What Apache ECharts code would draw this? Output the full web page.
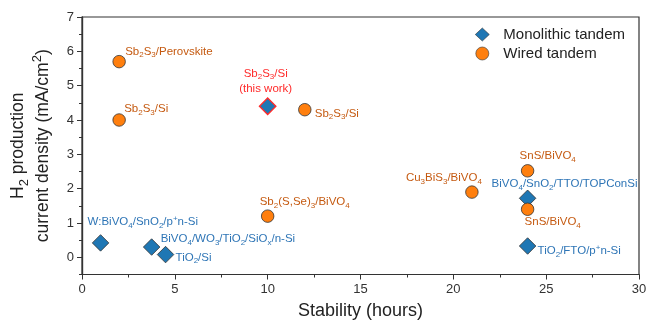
<!DOCTYPE html>
<html>
<head>
<meta charset="utf-8">
<script src="https://cdn.jsdelivr.net/npm/echarts@6/dist/echarts.min.js"></script>
<style>html,body{margin:0;padding:0;background:#fff}#c{width:648px;height:322px}</style>
</head>
<body>
<div id="c"></div>
<script>
// ---- data ----
var monoX = [1, 3.75, 4.5, 10, 24, 24];
var monoY = [0.42, 0.3, 0.08, 4.4, 1.72, 0.33];
var monoNames = ['W:BiVO_{4}/SnO_{2}/p^{+}n-Si', 'BiVO_{4}/WO_{3}/TiO_{2}/SiO_{x}/n-Si', 'TiO_{2}/Si', 'Sb_{2}S_{3}/Si\n(this work)', 'BiVO_{4}/SnO_{2}/TTO/TOPConSi', 'TiO_{2}/FTO/p^{+}n-Si'];
var wiredX = [2, 2, 12, 10, 21, 24, 24];
var wiredY = [5.7, 4.0, 4.3, 1.2, 1.9, 2.52, 1.4];
var wiredNames = ['Sb_{2}S_{3}/Perovskite', 'Sb_{2}S_{3}/Si', 'Sb_{2}S_{3}/Si', 'Sb_{2}(S,Se)_{3}/BiVO_{4}', 'Cu_{3}BiS_{3}/BiVO_{4}', 'SnS/BiVO_{4}', 'SnS/BiVO_{4}'];
var seriesNames = ['Monolithic tandem', 'Wired tandem'];
var xTicks = [0, 5, 10, 15, 20, 25, 30];
var yTicks = [0, 1, 2, 3, 4, 5, 6, 7];
var highlightIndex = 3; // "this work" point in monolithic series

// ---- label placement (layout only) ----
var monoPlace = [['left', -13, -21], ['left', 9, -8], ['left', 10, 3], ['center', -2, -25], ['left', -36, -14], ['left', 10, 5]];
var wiredPlace = [['left', 6, -10], ['left', 5, -11], ['left', 10, 4], ['left', -8, -14], ['right', 10, -14], ['left', -8, -15], ['left', -3, 13]];

var FONT = '"Liberation Sans", Arial, sans-serif';
function toRich(s) {
  return s.split('\n').map(function (line) {
    var out = '', last = 0, re = /(_|\^)\{([^}]*)\}/g, m;
    while ((m = re.exec(line)) !== null) {
      if (m.index > last) out += '{n|' + line.slice(last, m.index) + '}';
      out += '{' + (m[1] === '_' ? 'sub' : 'sup') + '|' + m[2] + '}';
      last = re.lastIndex;
    }
    if (last < line.length) out += '{n|' + line.slice(last) + '}';
    return out;
  }).join('\n');
}
function richStyles(fs, lh) {
  return {
    n: { fontSize: fs, lineHeight: lh, fontFamily: FONT },
    sub: { fontSize: Math.round(fs * 0.72), lineHeight: 6, verticalAlign: 'bottom', fontFamily: FONT },
    sup: { fontSize: Math.round(fs * 0.72), lineHeight: 6, verticalAlign: 'top', fontFamily: FONT }
  };
}
var labelRich = richStyles(11.5, 15);

function buildData(xs, ys, names, place, color) {
  return xs.map(function (x, i) {
    return {
      value: [x, ys[i]],
      name: names[i],
      label: { align: place[i][0], offset: [place[i][1], place[i][2]], color: color }
    };
  });
}
var monoData = buildData(monoX, monoY, monoNames, monoPlace, '#2e75b6');
monoData[highlightIndex].label.color = '#ff2a2a';
monoData[highlightIndex].itemStyle = { borderColor: '#ff2a2a', borderWidth: 1.3 };
var wiredData = buildData(wiredX, wiredY, wiredNames, wiredPlace, '#c55a11');

var baseLabel = {
  show: true, position: 'inside', verticalAlign: 'middle',
  fontFamily: FONT, fontSize: 11.5, lineHeight: 15, rich: labelRich,
  formatter: function (p) { return toRich(p.name); }
};

var axisColor = '#333';
var chart = echarts.init(document.getElementById('c'), null, { renderer: 'canvas' });
chart.setOption({
  animation: false,
  backgroundColor: '#fff',
  textStyle: { fontFamily: FONT },
  grid: { left: 82, right: 9, top: 17, bottom: 47.5, outerBoundsMode: 'none', containLabel: false, show: true, borderColor: axisColor, borderWidth: 1.2, backgroundColor: 'transparent' },
  legend: {
    orient: 'vertical', left: 470, top: 22, itemWidth: 14, itemHeight: 13, itemGap: 4,
    itemStyle: { borderWidth: 0.6 },
    textStyle: { fontSize: 15, color: '#222', fontFamily: FONT, padding: [0, 0, 0, 9] },
    data: [{ name: seriesNames[0], icon: 'diamond' }, { name: seriesNames[1], icon: 'circle' }]
  },
  xAxis: {
    type: 'value', min: xTicks[0], max: xTicks[xTicks.length - 1], interval: 5,
    name: 'Stability (hours)', nameLocation: 'middle', nameGap: 28,
    nameTextStyle: { fontSize: 18, color: '#222', fontFamily: FONT },
    axisLine: { onZero: false, lineStyle: { color: axisColor, width: 1.2 } },
    axisTick: { inside: false, length: 5, lineStyle: { color: axisColor } },
    minorTick: { show: true, splitNumber: 2, length: 3, lineStyle: { color: axisColor } },
    axisLabel: { fontSize: 13, color: '#333', margin: 8, fontFamily: FONT },
    splitLine: { show: false }, minorSplitLine: { show: false }
  },
  yAxis: [{
    type: 'value', min: -0.5, max: 7, interval: 0.5, position: 'left',
    axisLine: { show: true, onZero: false, lineStyle: { color: axisColor, width: 1.2 } },
    axisTick: { show: true, inside: false, length: 3, lineStyle: { color: axisColor } },
    axisLabel: { show: false },
    splitLine: { show: false }
  }, {
    type: 'value', min: -0.5, max: 7, position: 'left',
    name: toRich('H_{2} production\ncurrent density (mA/cm^{2})'),
    nameLocation: 'middle', nameRotate: 90, nameGap: 22,
    nameTextStyle: { fontSize: 17.5, color: '#222', lineHeight: 25, rich: richStyles(17.5, 25) },
    axisLine: { show: true, onZero: false, lineStyle: { color: axisColor, width: 1.2 } },
    axisTick: { show: true, inside: false, length: 5, customValues: yTicks, lineStyle: { color: axisColor } },
    axisLabel: { fontSize: 13, color: '#333', margin: 8, fontFamily: FONT, customValues: yTicks },
    splitLine: { show: false }
  }],
  series: [{
    name: seriesNames[0], type: 'scatter', yAxisIndex: 0, symbol: 'diamond', symbolSize: 16.5,
    itemStyle: { color: '#1f77b4', borderColor: '#333', borderWidth: 0.8, opacity: 1 },
    label: baseLabel, emphasis: { disabled: true }, z: 3,
    data: monoData
  }, {
    name: seriesNames[1], type: 'scatter', yAxisIndex: 0, symbol: 'circle', symbolSize: 12.5,
    itemStyle: { color: '#ff7f0e', borderColor: '#333', borderWidth: 0.8, opacity: 1 },
    label: baseLabel, emphasis: { disabled: true }, z: 3,
    data: wiredData
  }]
});
</script>
</body>
</html>
